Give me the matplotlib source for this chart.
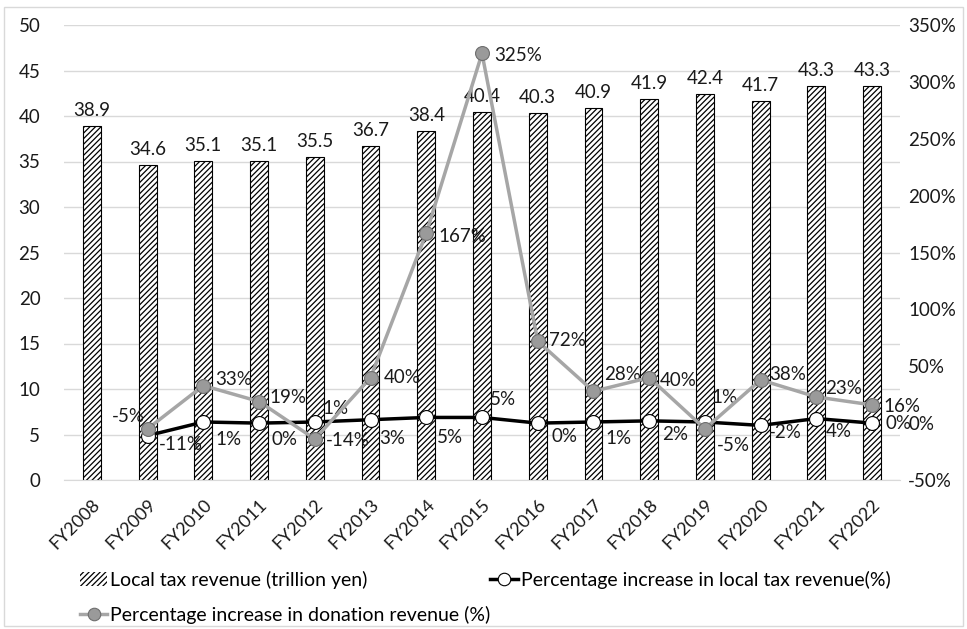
import numpy as np
import matplotlib.pyplot as plt
from matplotlib.patches import Patch, Rectangle
from matplotlib.lines import Line2D
from matplotlib.transforms import ScaledTranslation

plt.rcParams['font.family'] = ['Lato', 'DejaVu Sans']
plt.rcParams['hatch.linewidth'] = 0.9

years = ['FY2008', 'FY2009', 'FY2010', 'FY2011', 'FY2012', 'FY2013', 'FY2014', 'FY2015',
         'FY2016', 'FY2017', 'FY2018', 'FY2019', 'FY2020', 'FY2021', 'FY2022']
tax_revenue = [38.9, 34.6, 35.1, 35.1, 35.5, 36.7, 38.4, 40.4, 40.3, 40.9, 41.9, 42.4, 41.7, 43.3, 43.3]
# growth rates start from FY2009
tax_growth = [-11, 1, 0, 1, 3, 5, 5, 0, 1, 2, 1, -2, 4, 0]
donation_growth = [-5, 33, 19, -14, 40, 167, 325, 72, 28, 40, -5, 38, 23, 16]

# label offsets in pixels (dx, dy), dy upward
tax_offsets = [(33, -9), (25, -18), (25, -16), (21, 13), (22, -19), (24, -20), (21, 18),
               (27, -13), (25, -17), (26, -14), (20, 24), (25, -7), (22, -13), (26, 0)]
don_offsets = [(-19, 12), (30, 6), (29, 4), (33, -1), (32, 0), (36, -3), (36, -2),
               (30, 1), (29, 17), (29, -3), (28, -17), (27, 5), (27, 8), (30, -2)]

FS = 13.5
INK = '#1a1a1a'

fig = plt.figure(figsize=(9.67, 6.29), dpi=100)
ax = fig.add_axes([64/967, 1-480/629, 836/967, 455/629])
ax2 = ax.twinx()

x = np.arange(len(years))
ax.bar(x, tax_revenue, width=0.32, color='white', edgecolor='black',
       hatch='//////', linewidth=0.8, zorder=2)
for xi, v in zip(x, tax_revenue):
    ax.annotate(f'{v:.1f}', (xi, v), xytext=(0, 7), textcoords='offset pixels',
                ha='center', va='bottom', fontsize=FS, color=INK)

ax.set_ylim(0, 50)
ax.set_yticks(np.arange(0, 51, 5))
ax.set_xlim(-0.5, len(years) - 0.5)
ax.set_xticks(x)
ax.set_xticklabels(years, rotation=45, ha='right', rotation_mode='anchor')
shift = ScaledTranslation(5/100, 0, fig.dpi_scale_trans)
for lab in ax.get_xticklabels():
    lab.set_transform(lab.get_transform() + shift)
ax.grid(axis='y', color='#d9d9d9', linewidth=1, zorder=0)
ax.set_axisbelow(True)
for s in ['top', 'left', 'right']:
    ax.spines[s].set_visible(False)
ax.spines['bottom'].set_color('#d9d9d9')
ax.tick_params(axis='y', length=0, pad=17, labelsize=FS, labelcolor=INK)
ax.tick_params(axis='x', length=0, pad=12, labelsize=13, labelcolor=INK)

xl = x[1:]
ax2.plot(xl, tax_growth, color='black', linewidth=2.5, marker='o', markersize=10,
         markerfacecolor='white', markeredgecolor='black', markeredgewidth=0.8, zorder=3)
ax2.plot(xl, donation_growth, color='#a6a6a6', linewidth=2.5, marker='o', markersize=10,
         markerfacecolor='#9a9a9a', markeredgecolor='#6e6e6e', markeredgewidth=0.8, zorder=4)
for xi, v, (dx, dy) in zip(xl, tax_growth, tax_offsets):
    ax2.annotate(f'{v}%', (xi, v), xytext=(dx, dy), textcoords='offset pixels',
                 ha='center', va='center', fontsize=FS, color=INK)
for xi, v, (dx, dy) in zip(xl, donation_growth, don_offsets):
    ax2.annotate(f'{v}%', (xi, v), xytext=(dx, dy), textcoords='offset pixels',
                 ha='center', va='center', fontsize=FS, color=INK)

ax2.set_ylim(-50, 350)
ax2.set_yticks(np.arange(-50, 351, 50))
ax2.set_yticklabels([f'{t}%' for t in range(-50, 351, 50)])
ax2.tick_params(axis='y', length=0, pad=6, labelsize=FS, labelcolor=INK)
for s in ax2.spines.values():
    s.set_visible(False)

handles = [
    Patch(facecolor='white', edgecolor='black', linewidth=0, hatch='//////'),
    Line2D([], [], color='#a6a6a6', linewidth=2.5, marker='o', markersize=9,
           markerfacecolor='#9a9a9a', markeredgecolor='#6e6e6e', markeredgewidth=0.8),
    Line2D([], [], color='black', linewidth=2.5, marker='o', markersize=9,
           markerfacecolor='white', markeredgecolor='black', markeredgewidth=0.8),
]
labels = ['Local tax revenue (trillion yen)', 'Percentage increase in donation revenue (%)',
          'Percentage increase in local tax revenue(%)']
fig.legend(handles, labels, ncol=2, loc='upper left', bbox_to_anchor=(80/967, 1-571/629),
           frameon=False, fontsize=14, handlelength=1.4, handletextpad=0.15,
           columnspacing=0.0, labelspacing=0.86, borderaxespad=0, borderpad=0)

fig.patches.append(Rectangle((0.004, 0.004), 0.992, 0.985, transform=fig.transFigure,
                             fill=False, edgecolor='#d9d9d9', linewidth=1))

fig.savefig('out.png', dpi=100)
